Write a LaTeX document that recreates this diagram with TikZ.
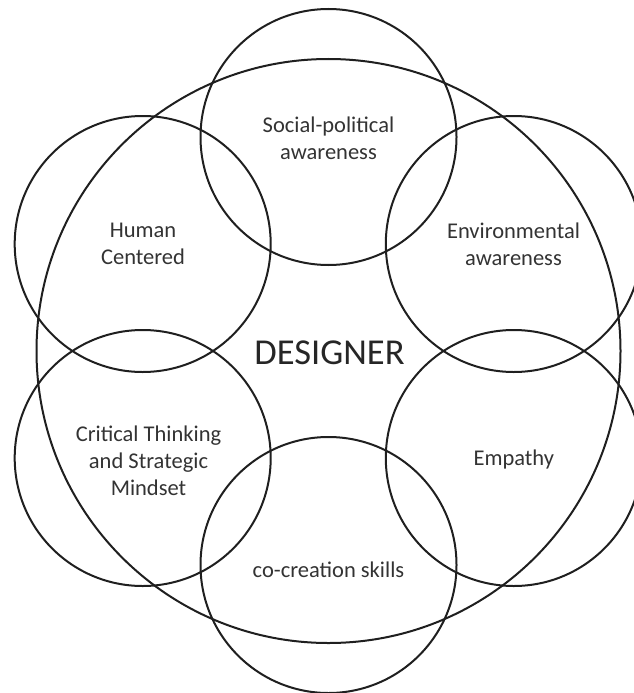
\documentclass[tikz,border=0pt]{standalone}
\usepackage{fontspec}
\setmainfont{Carlito}
\begin{document}
\begin{tikzpicture}[x=1pt,y=-1pt,
  ring/.style={circle, draw=black!88, line width=2pt, inner sep=0pt, outer sep=0pt},
  small/.style={ring, minimum size=256pt},
  lbl/.style={align=center, font=\fontsize{22.5}{27}\selectfont, text=black!80},
  title/.style={font=\fontsize{36.5}{40}\selectfont, text=black!85}]
\useasboundingbox (0,0) rectangle (633,693);
\node[ring, minimum size=584pt] (big) at (328.5,351) {};
\node[small] (social) at (328.5,137) {};
\node[small] (human) at (142.7,244) {};
\node[small] (env) at (513.8,244) {};
\node[small] (crit) at (142.7,458) {};
\node[small] (emp) at (513.8,458) {};
\node[small] (cocr) at (328.5,565) {};
\node[lbl] (tsocial) at (328.5,138) {Social-political\\awareness};
\node[lbl] (thuman) at (143,244) {Human\\Centered};
\node[lbl] (tenv) at (513.5,244) {Environmental\\awareness};
\node[lbl] (tcrit) at (148.5,461) {Critical Thinking\\and Strategic\\Mindset};
\node[lbl] (temp) at (513.8,459) {Empathy};
\node[lbl] (tcocr) at (328.5,570) {co-creation skills};
\node[title] (tdes) at (329.5,353) {DESIGNER};
\end{tikzpicture}
\end{document}
